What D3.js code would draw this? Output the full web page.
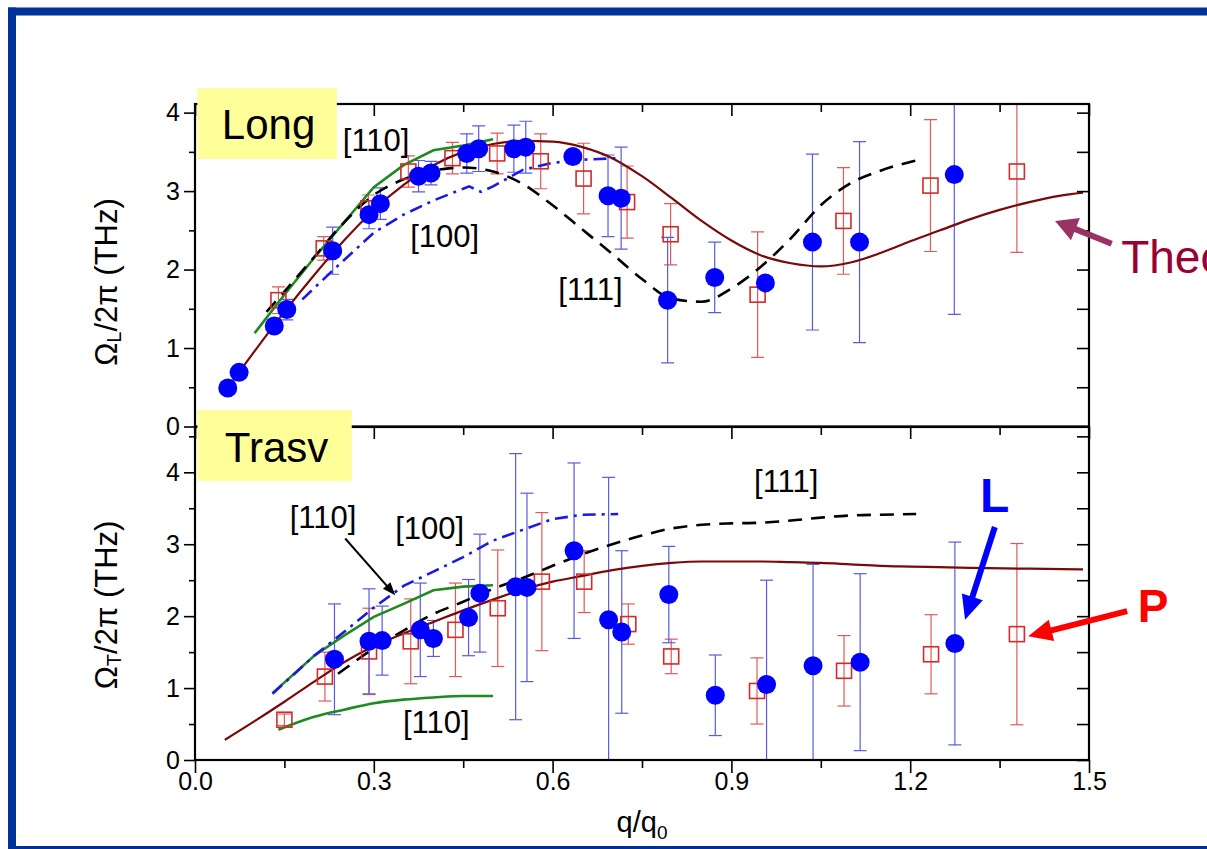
<!DOCTYPE html>
<html><head><meta charset="utf-8">
<script src="https://cdn.jsdelivr.net/npm/d3@7"></script>
<style>html,body{margin:0;padding:0;background:#fff;overflow:hidden}</style>
</head><body><svg id="c" width="1207" height="849"></svg>
<script>
// ---------- data ----------
const xTickLabels = [0.0, 0.3, 0.6, 0.9, 1.2, 1.5];
const yTickLabelsL = [0, 1, 2, 3, 4];
const yTickLabelsT = [0, 1, 2, 3, 4];

// [q/q0, frequency THz, error]
const longBlue = [[0.055,0.49,0],[0.074,0.69,0],[0.133,1.28,0.08],[0.154,1.49,0.13],[0.231,2.24,0.3],[0.292,2.70,0.18],[0.311,2.84,0.2],[0.375,3.19,0.2],[0.396,3.23,0.15],[0.456,3.48,0.25],[0.476,3.54,0.29],[0.535,3.54,0.3],[0.555,3.56,0.33],[0.634,3.44,0],[0.693,2.94,0.52],[0.715,2.91,0.65],[0.793,1.61,0.8],[0.872,1.90,0.45],[0.957,1.83,0],[1.036,2.35,1.12],[1.115,2.35,1.28],[1.274,3.21,1.78]];
const longRed = [[0.14,1.61,0.17],[0.216,2.27,0.15],[0.291,2.78,0.17],[0.358,3.25,0.2],[0.432,3.42,0.2],[0.507,3.48,0.26],[0.580,3.38,0.35],[0.652,3.16,0.45],[0.725,2.86,0.46],[0.798,2.45,0.39],[0.944,1.68,0.8],[1.088,2.62,0.68],[1.234,3.07,0.84],[1.379,3.25,1.03]];
const transBlue = [[0.234,1.40,0.77],[0.292,1.65,0.73],[0.314,1.66,0.48],[0.378,1.81,0.65],[0.40,1.69,0.25],[0.459,1.98,0.53],[0.478,2.32,0.82],[0.538,2.41,1.85],[0.557,2.40,1.31],[0.636,2.91,1.22],[0.694,1.95,1.98],[0.716,1.78,1.13],[0.795,2.30,0.67],[0.873,0.90,0.56],[0.959,1.05,1.45],[1.037,1.31,1.41],[1.116,1.36,1.23],[1.275,1.62,1.41]];
const transRed = [[0.15,0.56,0.08],[0.218,1.16,0.34],[0.292,1.51,0.6],[0.362,1.65,0.59],[0.437,1.81,0.65],[0.508,2.11,0.81],[0.582,2.48,0.96],[0.653,2.48,0.43],[0.727,1.89,0.28],[0.799,1.44,0.24],[0.943,0.96,0.46],[1.089,1.24,0.49],[1.235,1.47,0.55],[1.379,1.75,1.26]];

// curves [q, value]
const longTheory = [[0.05,0.44],[0.1,0.96],[0.15,1.46],[0.2,1.93],[0.25,2.37],[0.3,2.76],[0.35,3.08],[0.4,3.33],[0.45,3.50],[0.5,3.60],[0.55,3.64],[0.6,3.63],[0.65,3.56],[0.7,3.42],[0.75,3.19],[0.8,2.91],[0.85,2.62],[0.9,2.37],[0.95,2.18],[1.0,2.08],[1.05,2.04],[1.1,2.09],[1.15,2.21],[1.2,2.36],[1.25,2.5],[1.3,2.64],[1.35,2.76],[1.4,2.86],[1.45,2.94],[1.49,2.98]];
const long110 = [[0.1,1.19],[0.15,1.68],[0.2,2.15],[0.25,2.6],[0.3,3.05],[0.35,3.33],[0.4,3.52],[0.45,3.58],[0.5,3.66]];
const long111 = [[0.12,1.46],[0.15,1.72],[0.2,2.16],[0.25,2.6],[0.3,2.95],[0.35,3.15],[0.4,3.26],[0.45,3.3],[0.5,3.25],[0.55,3.09],[0.6,2.82],[0.65,2.51],[0.7,2.2],[0.75,1.88],[0.8,1.63],[0.85,1.59],[0.9,1.76],[0.95,2.04],[1.0,2.4],[1.05,2.82],[1.1,3.1],[1.15,3.26],[1.21,3.39]];
const long100 = [[0.18,1.62],[0.23,1.98],[0.3,2.47],[0.35,2.7],[0.4,2.88],[0.45,3.03],[0.46,3.06],[0.48,2.99],[0.5,3.06],[0.55,3.27],[0.6,3.36],[0.65,3.40],[0.71,3.42]];

const transTheory = [[0.05,0.28],[0.1,0.54],[0.15,0.81],[0.2,1.09],[0.25,1.36],[0.3,1.58],[0.35,1.76],[0.4,1.92],[0.45,2.08],[0.5,2.23],[0.55,2.37],[0.6,2.48],[0.65,2.56],[0.7,2.64],[0.75,2.70],[0.8,2.74],[0.85,2.76],[0.9,2.76],[0.95,2.76],[1.0,2.75],[1.05,2.74],[1.1,2.72],[1.15,2.70],[1.2,2.69],[1.3,2.67],[1.4,2.66],[1.49,2.65]];
const trans110Up = [[0.13,0.93],[0.2,1.45],[0.25,1.73],[0.3,1.99],[0.35,2.17],[0.4,2.36],[0.45,2.41],[0.5,2.43]];
const trans110Low = [[0.14,0.42],[0.2,0.6],[0.25,0.7],[0.3,0.79],[0.35,0.84],[0.4,0.87],[0.45,0.89],[0.5,0.89]];
const trans100 = [[0.13,0.92],[0.2,1.45],[0.25,1.78],[0.3,2.12],[0.35,2.42],[0.4,2.62],[0.45,2.82],[0.5,3.05],[0.55,3.2],[0.6,3.35],[0.65,3.41],[0.71,3.42]];
const trans111 = [[0.24,1.2],[0.3,1.55],[0.35,1.8],[0.4,2.03],[0.45,2.2],[0.5,2.38],[0.55,2.53],[0.6,2.7],[0.65,2.86],[0.7,3.0],[0.75,3.12],[0.8,3.22],[0.85,3.27],[0.9,3.29],[0.95,3.3],[1.0,3.33],[1.05,3.37],[1.1,3.4],[1.15,3.41],[1.21,3.42]];

// ---------- layout ----------
const svg = d3.select("#c");
const FONT = "Liberation Sans, Arial, sans-serif";
const X0 = 195, X1 = 1089;
const x = d3.scaleLinear().domain([0, 1.5]).range([X0, X1]);
const yL = d3.scaleLinear().domain([0, 4.11]).range([426.5, 104]);
const yT = d3.scaleLinear().domain([0, 4.63]).range([760, 427]);

// outer blue frame
svg.append("rect").attr("x", 8).attr("y", 7.5).attr("width", 1207).attr("height", 8).attr("fill", "#003399");
svg.append("rect").attr("x", 8).attr("y", 7.5).attr("width", 8).attr("height", 849).attr("fill", "#003399");
svg.append("rect").attr("x", 8).attr("y", 846).attr("width", 1207).attr("height", 4).attr("fill", "#003399");

const defs = svg.append("defs");
function clip(id, y) {
  defs.append("clipPath").attr("id", id).append("rect")
    .attr("x", X0).attr("y", y.range()[1]).attr("width", X1 - X0).attr("height", y.range()[0] - y.range()[1]);
}
clip("cL", yL); clip("cT", yT);

function panel(y, clipId, blue, red, curves, isBottom) {
  const g = svg.append("g");
  const gc = g.append("g").attr("clip-path", `url(#${clipId})`);
  // error bars
  const eb = (data, color) => {
    data.filter(d => d[2] > 0).forEach(d => {
      const cx = x(d[0]), y1 = y(d[1] + d[2]), y2 = y(d[1] - d[2]);
      gc.append("line").attr("x1", cx).attr("x2", cx).attr("y1", y1).attr("y2", y2).attr("stroke", color).attr("stroke-width", 1.2);
      [y1, y2].forEach(yy => gc.append("line").attr("x1", cx - 6.5).attr("x2", cx + 6.5).attr("y1", yy).attr("y2", yy).attr("stroke", color).attr("stroke-width", 1.2));
    });
  };
  eb(red, "#e05a5a");
  eb(blue, "#5a5ae0");
  // curves
  curves.forEach(c => {
    const line = d3.line().x(d => x(d[0])).y(d => y(d[1])).curve(c.curve || d3.curveMonotoneX);
    gc.append("path").attr("d", line(c.data)).attr("fill", "none").attr("stroke", c.color)
      .attr("stroke-width", c.width).attr("stroke-dasharray", c.dash || null);
  });
  // squares
  gc.selectAll(null).data(red).enter().append("rect")
    .attr("x", d => x(d[0]) - 7.5).attr("y", d => y(d[1]) - 7.5).attr("width", 15).attr("height", 15)
    .attr("fill", "none").attr("stroke", "#d42a2a").attr("stroke-width", 1.6);
  // circles
  gc.selectAll(null).data(blue).enter().append("circle")
    .attr("cx", d => x(d[0])).attr("cy", d => y(d[1])).attr("r", 9.5).attr("fill", "#0000ff");

  // axes
  const yticks = d3.range(0, Math.floor(y.domain()[1] * 2) / 2 + 0.001, 0.5);
  const left = g.append("g").attr("transform", `translate(${X0},0)`).call(
    d3.axisLeft(y).tickValues(yticks).tickFormat(d => Number.isInteger(d) ? d3.format("d")(d) : "").tickSizeOuter(0).tickPadding(6));
  left.selectAll(".tick line").attr("x2", d => Number.isInteger(d) ? -11 : -6).attr("stroke-width", 1.6);
  left.selectAll(".tick text").attr("font-family", FONT).attr("font-size", 25).attr("x", -15).attr("fill", "#000");
  left.select(".domain").remove();
  const right = g.append("g").attr("transform", `translate(${X1},0)`).call(
    d3.axisLeft(y).tickValues(yticks).tickFormat("").tickSizeOuter(0).tickSize(-0));
  right.selectAll(".tick line").attr("x2", -12).attr("stroke-width", 1.6);
  right.select(".domain").remove();
  const xt = d3.range(0, 1.5001, 0.15);
  const top = g.append("g").attr("transform", `translate(0,${y.range()[1]})`).call(
    d3.axisTop(x).tickValues(xt).tickFormat("").tickSizeOuter(0));
  top.selectAll(".tick line").attr("y2", (d, i) => i % 2 === 0 ? 12 : 8).attr("stroke-width", 1.6);
  top.select(".domain").remove();
  if (isBottom) {
    const bot = g.append("g").attr("transform", `translate(0,${y.range()[0]})`).call(
      d3.axisBottom(x).tickValues(xt).tickFormat((d, i) => i % 2 === 0 ? d3.format(".1f")(d) : "").tickSizeOuter(0).tickPadding(6));
    bot.selectAll(".tick line").attr("y2", (d, i) => i % 2 === 0 ? 13 : 8).attr("stroke-width", 1.6);
    bot.selectAll(".tick text").attr("font-family", FONT).attr("font-size", 25).attr("y", 12).attr("fill", "#000");
    bot.select(".domain").remove();
  }
  g.append("rect").attr("x", X0).attr("y", y.range()[1]).attr("width", X1 - X0).attr("height", y.range()[0] - y.range()[1])
    .attr("fill", "none").attr("stroke", "#000").attr("stroke-width", 2.2);
  return g;
}

const GREEN = "#1f8a1f", THEORY = "#7a0a0a";
panel(yL, "cL", longBlue, longRed, [
  {data: long110, color: GREEN, width: 2.6, curve: d3.curveLinear},
  {data: long100, color: "#1a1ae0", width: 2.6, dash: "13,6,3,6", curve: d3.curveLinear},
  {data: long111, color: "#000", width: 2.6, dash: "14,9"},
  {data: longTheory, color: THEORY, width: 2.2}
], false);
panel(yT, "cT", transBlue, transRed, [
  {data: trans110Up, color: GREEN, width: 2.6, curve: d3.curveLinear},
  {data: trans110Low, color: GREEN, width: 2.6},
  {data: trans100, color: "#1a1ae0", width: 2.6, dash: "13,6,3,6", curve: d3.curveLinear},
  {data: trans111, color: "#000", width: 2.6, dash: "14,9"},
  {data: transTheory, color: THEORY, width: 2.2}
], true);

// ---------- annotations ----------
function label(txt, q, v, y, opts = {}) {
  return svg.append("text").attr("x", x(q)).attr("y", y(v)).text(txt)
    .attr("font-family", FONT).attr("font-size", opts.size || 31).attr("fill", opts.color || "#000")
    .attr("font-weight", opts.weight || "normal");
}
// yellow panel labels
svg.append("rect").attr("x", x(0.004)).attr("y", yL(4.31)).attr("width", x(0.238) - x(0.004)).attr("height", yL(3.41) - yL(4.31)).attr("fill", "#ffff99");
label("Long", 0.045, 3.67, yL, {size: 42});
svg.append("rect").attr("x", x(0.004)).attr("y", yT(4.866)).attr("width", x(0.263) - x(0.004)).attr("height", yT(3.879) - yT(4.866)).attr("fill", "#ffff99");
label("Trasv", 0.05, 4.15, yT, {size: 42});

label("[110]", 0.248, 3.51, yL);
label("[100]", 0.361, 2.29, yL);
label("[111]", 0.6096, 1.61, yL);
label("[110]", 0.159, 3.22, yT);
label("[100]", 0.336, 3.07, yT);
label("[110]", 0.349, 0.375, yT);
label("[111]", 0.938, 3.72, yT);
label("Theory", 1.554, 1.955, yL, {size: 46, color: "#990033"});
label("L", 1.317, 3.45, yT, {size: 48, color: "#0000ff", weight: "bold"});
label("P", 1.582, 1.92, yT, {size: 46, color: "#ff0000", weight: "bold"});

function arrow(x1, y1, x2, y2, color, w, hl, hw) {
  const dx = x2 - x1, dy = y2 - y1, L = Math.hypot(dx, dy), ux = dx / L, uy = dy / L;
  const bx = x2 - ux * hl, by = y2 - uy * hl;
  svg.append("line").attr("x1", x1).attr("y1", y1).attr("x2", bx + ux * 2).attr("y2", by + uy * 2).attr("stroke", color).attr("stroke-width", w);
  svg.append("path").attr("d", `M${x2},${y2}L${bx - uy * hw / 2},${by + ux * hw / 2}L${bx + uy * hw / 2},${by - ux * hw / 2}Z`).attr("fill", color);
}
arrow(x(1.538), yL(2.33), x(1.443), yL(2.62), "#993366", 6, 22, 24);
arrow(x(1.342), yT(3.24), x(1.292), yT(1.95), "#0000ff", 6, 24, 22);
arrow(x(1.564), yT(2.07), x(1.398), yT(1.72), "#ff0000", 6, 24, 22);
arrow(x(0.252), yT(3.08), x(0.336), yT(2.29), "#000", 2, 13, 10);

// axis titles
const tl = svg.append("text").attr("transform", "translate(106,282) rotate(-90)").attr("text-anchor", "middle")
  .attr("dominant-baseline", "central").attr("font-family", FONT).attr("font-size", 31);
tl.append("tspan").text("Ω");
tl.append("tspan").text("L").attr("font-size", 20).attr("dy", 8);
tl.append("tspan").text("/2π (THz)").attr("dy", -8);
const tt = svg.append("text").attr("transform", "translate(106,605) rotate(-90)").attr("text-anchor", "middle")
  .attr("dominant-baseline", "central").attr("font-family", FONT).attr("font-size", 31);
tt.append("tspan").text("Ω");
tt.append("tspan").text("T").attr("font-size", 20).attr("dy", 8);
tt.append("tspan").text("/2π (THz)").attr("dy", -8);
const xl = svg.append("text").attr("x", 642).attr("y", 832).attr("text-anchor", "middle").attr("font-family", FONT).attr("font-size", 29);
xl.append("tspan").text("q/q");
xl.append("tspan").text("0").attr("font-size", 19).attr("dy", 7);
</script></body></html>
